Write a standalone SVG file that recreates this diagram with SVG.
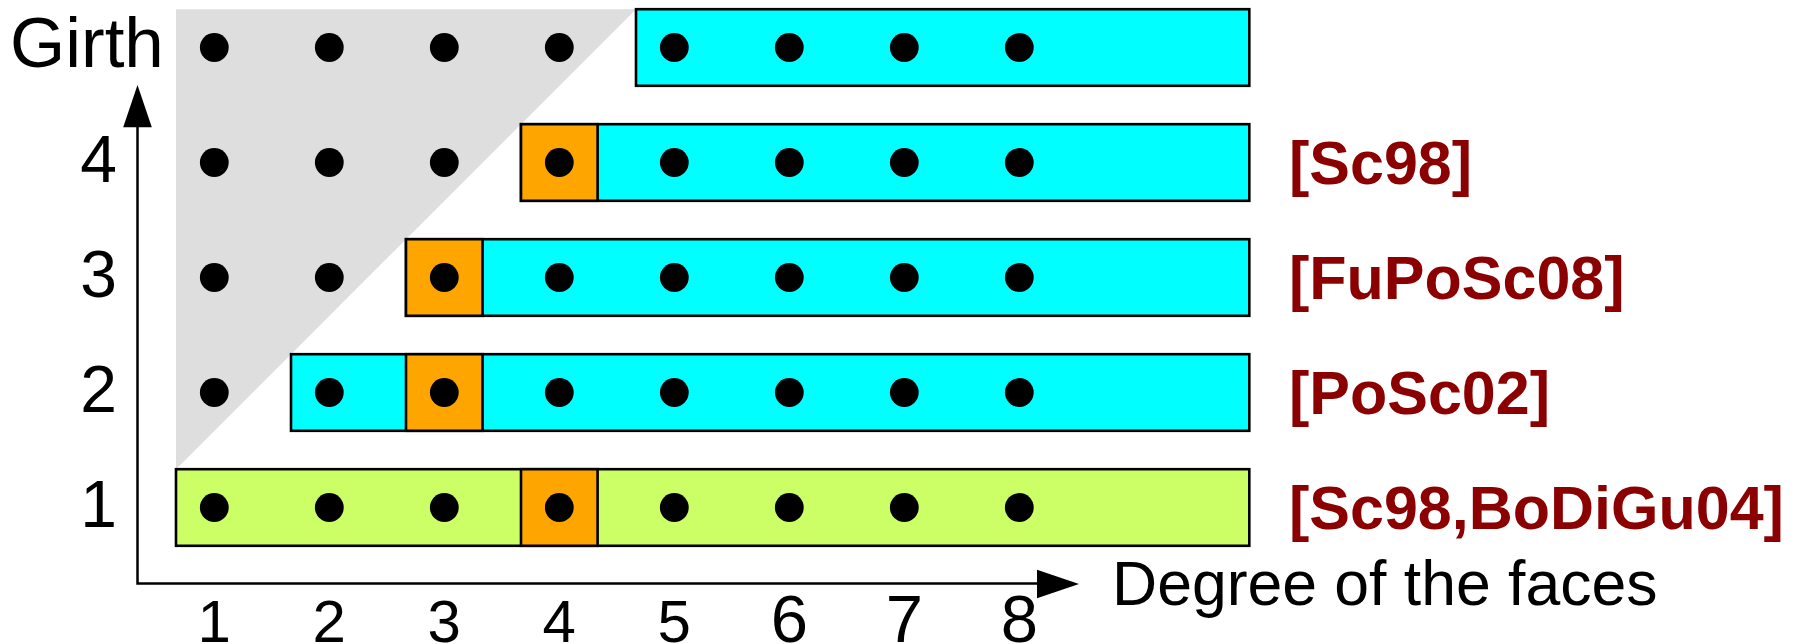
<svg xmlns="http://www.w3.org/2000/svg" width="1812" height="644" viewBox="0 0 1812 644">
  <style>
    .cell { stroke: #000; stroke-width: 2.6; }
    .cyan { fill: #00FFFF; }
    .green { fill: #CCFF66; }
    .orange { fill: #FFA500; }
    .dot { fill: #000; }
    .axis { stroke: #000; stroke-width: 2.5; fill: none; }
    .lbl { font-family: "Liberation Sans", Arial, sans-serif; fill: #000; }
    .ref { font-family: "Liberation Sans", Arial, sans-serif; font-weight: bold; font-size: 61px; fill: #8B0000; }
  </style>

  <!-- excluded region -->
  <polygon id="excluded" points="176,9.2 636,9.2 176,469.2" fill="#DEDEDE"/>

  <!-- result bands -->
  <g id="band-girth-top">
    <rect class="cell cyan" x="636" y="9.2" width="613.3" height="76.6"/>
  </g>
  <g id="band-girth-4">
    <rect class="cell cyan" x="521" y="124.2" width="728.3" height="76.6"/>
    <rect class="cell orange" x="521" y="124.2" width="76.6" height="76.6"/>
  </g>
  <g id="band-girth-3">
    <rect class="cell cyan" x="406" y="239.2" width="843.3" height="76.6"/>
    <rect class="cell orange" x="406" y="239.2" width="76.6" height="76.6"/>
  </g>
  <g id="band-girth-2">
    <rect class="cell cyan" x="291" y="354.2" width="958.3" height="76.6"/>
    <rect class="cell orange" x="406" y="354.2" width="76.6" height="76.6"/>
  </g>
  <g id="band-girth-1">
    <rect class="cell green" x="176" y="469.2" width="1073.3" height="76.6"/>
    <rect class="cell orange" x="521" y="469.2" width="76.6" height="76.6"/>
  </g>

  <!-- lattice points -->
  <g id="points" class="dot">
    <g transform="translate(0,47.5)">
      <circle cx="214.3" cy="0" r="14.4"/><circle cx="329.3" cy="0" r="14.4"/><circle cx="444.3" cy="0" r="14.4"/><circle cx="559.3" cy="0" r="14.4"/>
      <circle cx="674.3" cy="0" r="14.4"/><circle cx="789.3" cy="0" r="14.4"/><circle cx="904.3" cy="0" r="14.4"/><circle cx="1019.3" cy="0" r="14.4"/>
    </g>
    <g transform="translate(0,162.5)">
      <circle cx="214.3" cy="0" r="14.4"/><circle cx="329.3" cy="0" r="14.4"/><circle cx="444.3" cy="0" r="14.4"/><circle cx="559.3" cy="0" r="14.4"/>
      <circle cx="674.3" cy="0" r="14.4"/><circle cx="789.3" cy="0" r="14.4"/><circle cx="904.3" cy="0" r="14.4"/><circle cx="1019.3" cy="0" r="14.4"/>
    </g>
    <g transform="translate(0,277.5)">
      <circle cx="214.3" cy="0" r="14.4"/><circle cx="329.3" cy="0" r="14.4"/><circle cx="444.3" cy="0" r="14.4"/><circle cx="559.3" cy="0" r="14.4"/>
      <circle cx="674.3" cy="0" r="14.4"/><circle cx="789.3" cy="0" r="14.4"/><circle cx="904.3" cy="0" r="14.4"/><circle cx="1019.3" cy="0" r="14.4"/>
    </g>
    <g transform="translate(0,392.5)">
      <circle cx="214.3" cy="0" r="14.4"/><circle cx="329.3" cy="0" r="14.4"/><circle cx="444.3" cy="0" r="14.4"/><circle cx="559.3" cy="0" r="14.4"/>
      <circle cx="674.3" cy="0" r="14.4"/><circle cx="789.3" cy="0" r="14.4"/><circle cx="904.3" cy="0" r="14.4"/><circle cx="1019.3" cy="0" r="14.4"/>
    </g>
    <g transform="translate(0,507.5)">
      <circle cx="214.3" cy="0" r="14.4"/><circle cx="329.3" cy="0" r="14.4"/><circle cx="444.3" cy="0" r="14.4"/><circle cx="559.3" cy="0" r="14.4"/>
      <circle cx="674.3" cy="0" r="14.4"/><circle cx="789.3" cy="0" r="14.4"/><circle cx="904.3" cy="0" r="14.4"/><circle cx="1019.3" cy="0" r="14.4"/>
    </g>
  </g>

  <!-- axes -->
  <g id="axes">
    <polyline class="axis" points="137.5,120 137.5,583.5 1045,583.5"/>
    <polygon points="137.5,85 123.2,127.3 151.8,127.3" fill="#000"/>
    <polygon points="1079,584 1037,569.7 1037,598.3" fill="#000"/>
  </g>

  <!-- axis labels -->
  <g id="axis-labels" class="lbl">
    <text x="10" y="66.7" font-size="71">Girth</text>
    <text x="1112" y="605" font-size="62.5">Degree of the faces</text>
    <g font-size="66" text-anchor="middle">
      <text x="98.5" y="182">4</text>
      <text x="98.5" y="297">3</text>
      <text x="98.5" y="412">2</text>
      <text x="98.5" y="527">1</text>
    </g>
    <g font-size="60" text-anchor="middle">
      <text x="214.3" y="642">1</text>
      <text x="329.3" y="642">2</text>
      <text x="444.3" y="642">3</text>
      <text x="559.3" y="642">4</text>
      <text x="674.3" y="642">5</text>
    </g>
    <g font-size="67" text-anchor="middle">
      <text x="789.3" y="642">6</text>
      <text x="904.3" y="642">7</text>
      <text x="1019.3" y="642">8</text>
    </g>
  </g>

  <!-- references -->
  <g id="references">
    <text class="ref" x="1289" y="183.5">[Sc98]</text>
    <text class="ref" x="1289" y="298.5">[FuPoSc08]</text>
    <text class="ref" x="1289" y="413.5">[PoSc02]</text>
    <text class="ref" x="1289" y="528.5">[Sc98,BoDiGu04]</text>
  </g>
</svg>
